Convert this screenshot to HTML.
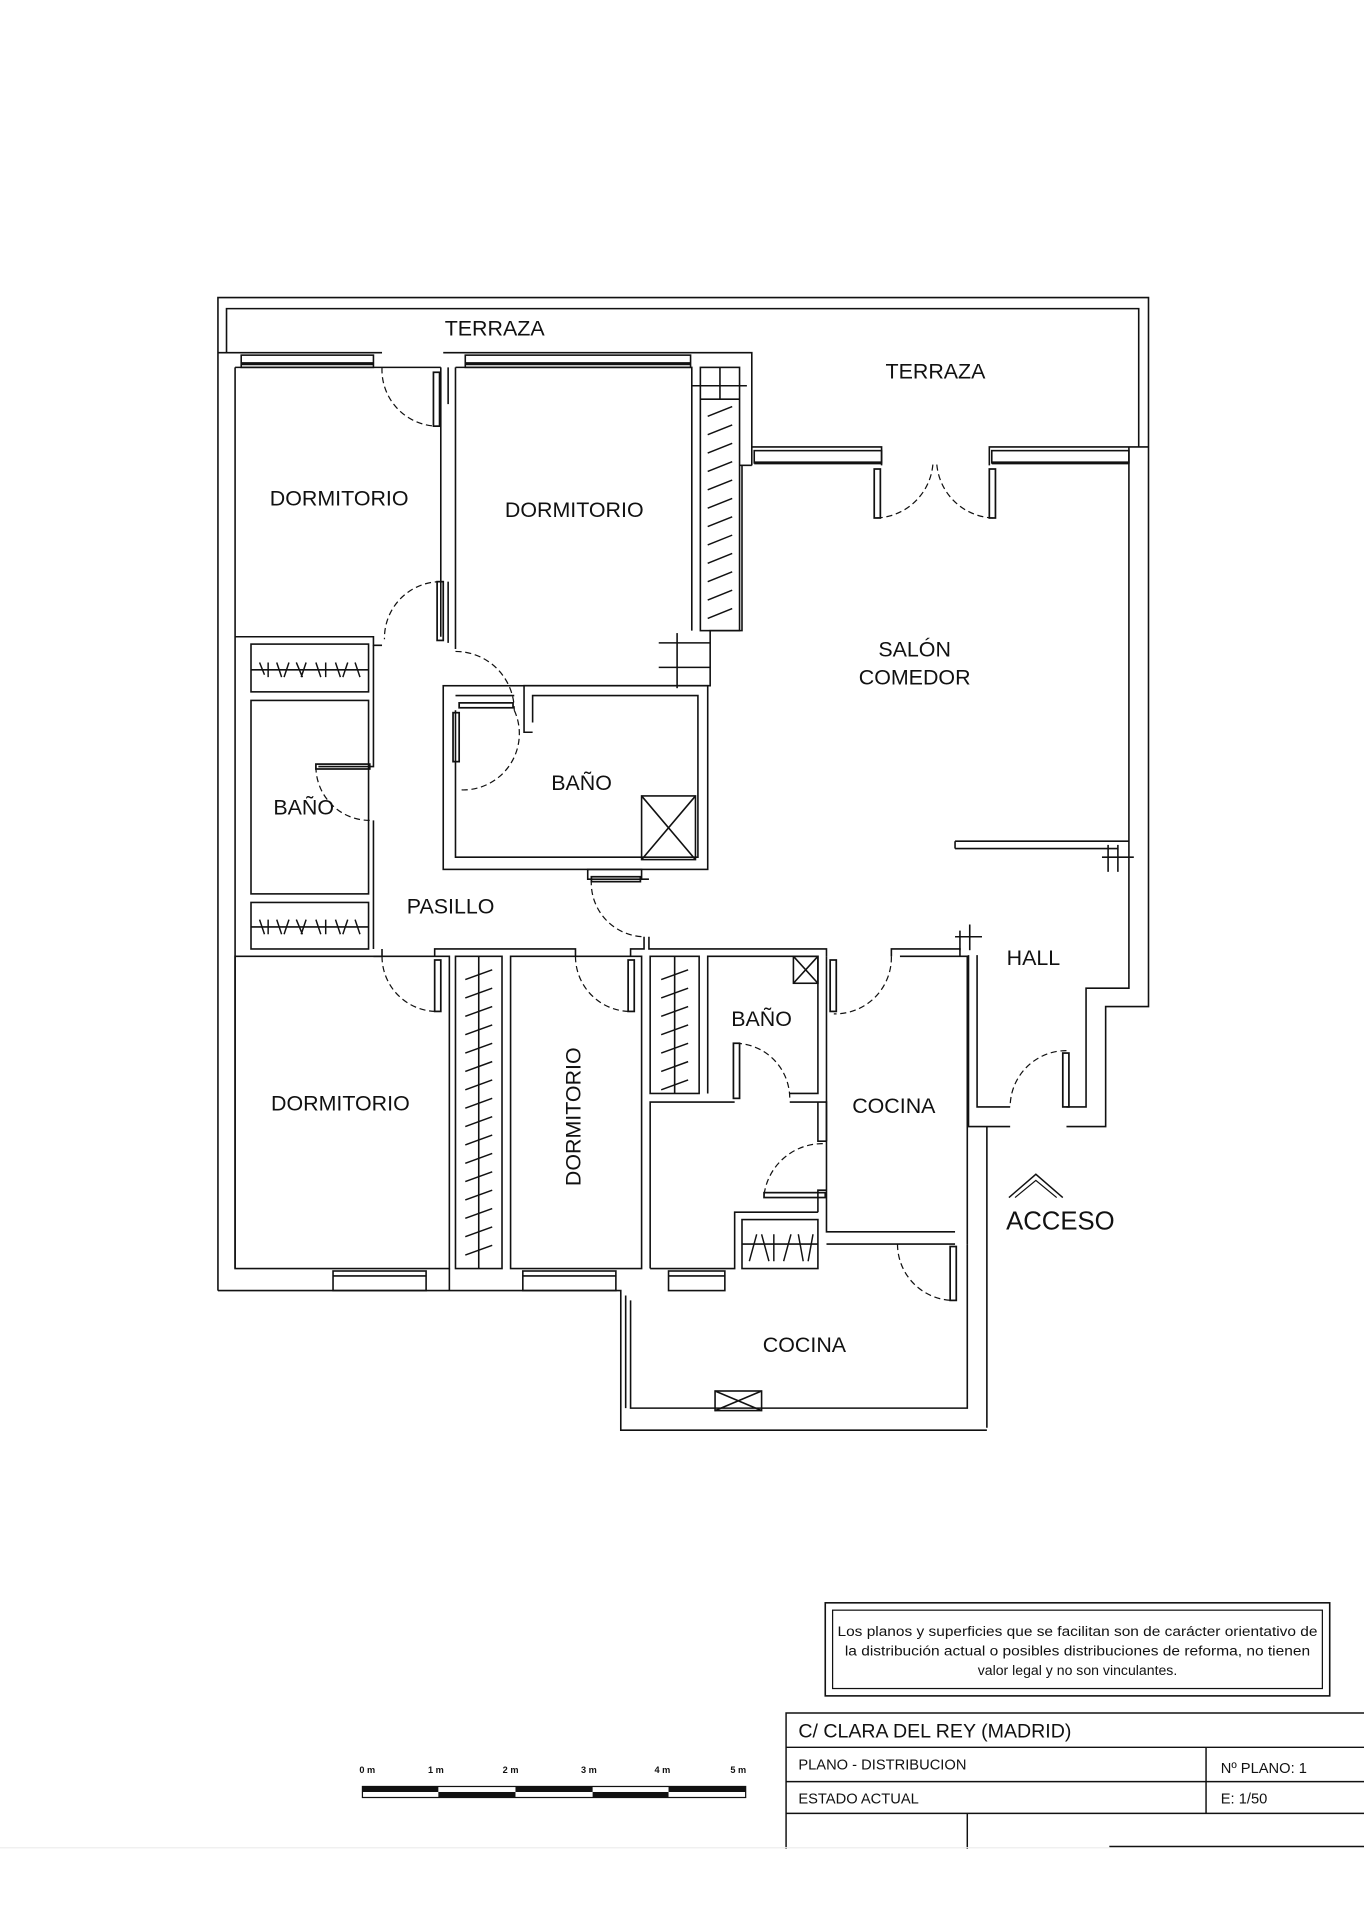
<!DOCTYPE html>
<html><head><meta charset="utf-8"><style>
html,body{margin:0;padding:0;background:#fff}
svg{display:block}
text{font-family:"Liberation Sans",sans-serif;fill:#111}
</style></head><body>
<svg width="1364" height="1920" viewBox="0 0 1114 1568" xmlns="http://www.w3.org/2000/svg">
<g fill="none" stroke="#111" stroke-width="1.3">
<!-- terrace outer -->
<polyline points="178,1054 178,243 938,243 938,365"/>
<polyline points="185,288 185,252 930,252 930,365"/>
<!-- top bedroom wall -->
<polyline points="178,288 312,288"/>
<polyline points="192,300 192,1036"/>
<rect x="197" y="290" width="108" height="10"/>
<line x1="197" y1="297" x2="305" y2="297" stroke-width="2.5"/>
<polyline points="362,288 614,288 614,380"/>
<rect x="380" y="290" width="184" height="10"/>
<line x1="380" y1="297" x2="564" y2="297" stroke-width="2.5"/>
<!-- dorm1 -->
<polyline points="192,300 360,300"/>
<polyline points="192,520 305,520 305,527 312,527"/>
<line x1="360" y1="300" x2="360" y2="520"/>
<line x1="372" y1="300" x2="372" y2="530"/>
<line x1="366" y1="300" x2="366" y2="330"/>
<line x1="366" y1="475" x2="366" y2="525"/>
<!-- dorm2 -->
<polyline points="372,300 565,300 565,515"/>
<rect x="572" y="300" width="32" height="215"/>
<line x1="604" y1="380" x2="614" y2="380"/>
<polyline points="606,380 606,515 580,515 580,560 428,560 428,598 435,598"/>
<line x1="572" y1="326" x2="604" y2="326"/>
<line x1="588" y1="300" x2="588" y2="326"/>
<line x1="565" y1="315" x2="610" y2="315"/>
<line x1="553" y1="517" x2="553" y2="562"/><line x1="538" y1="545" x2="580" y2="545"/><line x1="538" y1="525" x2="580" y2="525"/>
<!-- baño 2 -->
<polyline points="372,568 420,568"/>
<rect x="362" y="560" width="216" height="150" />
<polyline points="372,580 372,700 570,700 570,568 435,568 435,590"/>
<rect x="524" y="650" width="44" height="52"/><line x1="524" y1="650" x2="568" y2="702"/><line x1="568" y1="650" x2="524" y2="702"/>
<!-- left column -->
<rect x="205" y="526" width="96" height="39"/><line x1="205" y1="547" x2="301" y2="547"/>
<rect x="205" y="572" width="96" height="158"/>
<rect x="205" y="737" width="96" height="38"/><line x1="205" y1="757" x2="301" y2="757"/>
<polyline points="305,527 305,626 260,626"/>
<polyline points="305,670 305,775"/>
<!-- salon top -->
<polyline points="614,365 720,365 720,380"/>
<rect x="616" y="368" width="104" height="10"/>
<line x1="616" y1="378" x2="720" y2="378" stroke-width="2.5"/>
<polyline points="808,380 808,365 938,365"/>
<rect x="810" y="368" width="112" height="10"/>
<line x1="810" y1="378" x2="922" y2="378" stroke-width="2.5"/>
<polyline points="922,365 922,807 887,807 887,904 871,904"/>
<polyline points="938,365 938,822 903,822 903,920 871,920"/>
<polyline points="780,687 922,687"/><polyline points="780,693 913,693"/>
<line x1="780" y1="687" x2="780" y2="693"/>
<line x1="905" y1="690" x2="905" y2="712"/><line x1="900" y1="700" x2="926" y2="700"/><line x1="913" y1="690" x2="913" y2="712"/>
<!-- hall -->
<polyline points="798,780 798,904 825,904"/>
<polyline points="791,780 791,920 825,920"/>
<line x1="806" y1="920" x2="806" y2="1166"/>
<line x1="784" y1="760" x2="784" y2="776"/><line x1="792" y1="755" x2="792" y2="776"/><line x1="780" y1="765" x2="802" y2="765"/>
<!-- pasillo lower wall -->
<polyline points="530,765 530,775 675,775 675,781"/>
<polyline points="728,781 728,775 784,775 784,781"/>
<polyline points="312,775 312,781 305,781"/>
<polyline points="355,781 355,775 470,775 470,781"/>
<polyline points="515,781 515,775 526,775 526,765"/>
<polyline points="524,718 524,710 480,710 480,718 530,718"/>
<!-- lower bedroom -->
<rect x="192" y="781" width="175" height="255"/>
<rect x="372" y="781" width="38" height="255"/>
<line x1="391" y1="781" x2="391" y2="1036"/>
<rect x="417" y="781" width="107" height="255"/>
<rect x="531" y="781" width="40" height="112"/>
<line x1="551" y1="781" x2="551" y2="893"/>
<polyline points="578,893 578,781 668,781 668,893 645,893"/>
<rect x="648" y="781" width="20" height="22"/><line x1="648" y1="781" x2="668" y2="803"/><line x1="668" y1="781" x2="648" y2="803"/>
<polyline points="531,1036 531,900 600,900"/>
<polyline points="645,900 675,900 675,1006 780,1006"/>
<polyline points="531,1036 600,1036 600,990 668,990"/>
<rect x="606" y="996" width="62" height="40"/><line x1="606" y1="1016" x2="668" y2="1016"/>
<polyline points="675,1016 780,1016"/>
<polyline points="675,781 675,932"/>
<polyline points="668,900 668,932 675,932"/>
<polyline points="675,972 668,972 668,990"/>
<polyline points="735,781 790,781 790,1016"/>
<polyline points="790,1016 790,1150 515,1150 515,1062"/>
<!-- outer bottom -->
<polyline points="178,1054 507,1054 507,1168 806,1168"/>
<rect x="272" y="1038" width="76" height="16"/><line x1="272" y1="1042" x2="348" y2="1042"/>
<rect x="427" y="1038" width="76" height="16"/><line x1="427" y1="1042" x2="503" y2="1042"/>
<rect x="546" y="1038" width="46" height="16"/><line x1="546" y1="1042" x2="592" y2="1042"/>
<line x1="367" y1="1036" x2="367" y2="1054"/>
<line x1="511" y1="1058" x2="511" y2="1150"/>
<rect x="584" y="1136" width="38" height="16"/><line x1="584" y1="1136" x2="622" y2="1152"/><line x1="622" y1="1136" x2="584" y2="1152"/>
<!-- door leaves -->
<g stroke-width="1.4">
<rect x="354" y="304" width="5" height="44"/><rect x="357" y="475" width="5" height="48"/>
<rect x="370" y="582" width="5" height="40"/><rect x="375" y="574" width="44" height="4"/>
<rect x="258" y="624" width="44" height="4"/><rect x="483" y="716" width="40" height="4"/>
<rect x="714" y="383" width="5" height="40"/><rect x="808" y="383" width="5" height="40"/>
<rect x="355" y="784" width="5" height="42"/><rect x="513" y="784" width="5" height="42"/>
<rect x="678" y="784" width="5" height="42"/><rect x="599" y="852" width="5" height="45"/>
<rect x="624" y="974" width="50" height="4"/><rect x="776" y="1018" width="5" height="44"/>
<rect x="868" y="860" width="5" height="44"/>
</g>
</g>
<!-- wardrobe hatch -->
<g stroke="#111" stroke-width="1.2" fill="none">
<path d="M212 541l4 10M219 541l0 12M226 541l4 12M236 541l-4 12M242 541l5 12M250 541l-4 12M258 541l4 12M266 541l0 12M274 541l4 12M284 541l-4 12M290 541l4 12"/>
<path d="M212 751l4 12M219 751l0 12M226 751l4 12M236 751l-4 12M242 751l5 12M250 751l-4 12M258 751l4 12M266 751l0 12M274 751l4 12M284 751l-4 12M290 751l4 12"/>
<path d="M578 340l20 -8M578 355l20 -8M578 370l20 -8M578 385l20 -8M578 400l20 -8M578 415l20 -8M578 430l20 -8M578 445l20 -8M578 460l20 -8M578 475l20 -8M578 490l20 -8M578 505l20 -8"/>
<path d="M380 800l22 -8M380 815l22 -8M380 830l22 -8M380 845l22 -8M380 860l22 -8M380 875l22 -8M380 890l22 -8M380 905l22 -8M380 920l22 -8M380 935l22 -8M380 950l22 -8M380 965l22 -8M380 980l22 -8M380 995l22 -8M380 1010l22 -8M380 1025l22 -8"/>
<path d="M540 800l22 -8M540 815l22 -8M540 830l22 -8M540 845l22 -8M540 860l22 -8M540 875l22 -8M540 890l22 -8"/>
<path d="M612 1030l6 -22M622 1008l6 22M632 1008l0 22M640 1030l6 -22M652 1008l4 22M660 1030l4 -22"/>
</g>
<!-- door arcs -->
<g stroke="#111" stroke-width="1" fill="none" stroke-dasharray="5,3">
<path d="M312 300 A46 46 0 0 0 357 348"/>
<path d="M360 475 A46 46 0 0 0 314 522"/>
<path d="M372 532 A48 48 0 0 1 420 580"/>
<path d="M420 580 A46 46 0 0 1 375 645"/>
<path d="M258 626 A44 44 0 0 0 302 670"/>
<path d="M483 718 A44 44 0 0 0 526 765"/>
<path d="M716 423 A48 48 0 0 0 762 378"/>
<path d="M811 423 A48 48 0 0 1 765 378"/>
<path d="M312 781 A45 45 0 0 0 357 826"/>
<path d="M470 781 A45 45 0 0 0 515 826"/>
<path d="M728 781 A46 46 0 0 1 681 828"/>
<path d="M601 852 A45 45 0 0 1 645 897"/>
<path d="M672 934 A48 48 0 0 0 624 976"/>
<path d="M733 1016 A46 46 0 0 0 779 1062"/>
<path d="M871 858 A46 46 0 0 0 825 904"/>
</g>
<!-- labels -->
<g font-size="17.5" text-anchor="middle">
<text x="404" y="274">TERRAZA</text>
<text x="764" y="309">TERRAZA</text>
<text x="277" y="413">DORMITORIO</text>
<text x="469" y="422">DORMITORIO</text>
<text x="747" y="536">SALÓN</text>
<text x="747" y="559">COMEDOR</text>
<text x="475" y="645">BAÑO</text>
<text x="248" y="665">BAÑO</text>
<text x="368" y="746">PASILLO</text>
<text x="844" y="788">HALL</text>
<text x="622" y="838">BAÑO</text>
<text x="278" y="907">DORMITORIO</text>
<text x="730" y="909">COCINA</text>
<text x="657" y="1104">COCINA</text>
<text x="474" y="912" transform="rotate(-90 474 912)">DORMITORIO</text>
<text x="866" y="1004" font-size="21">ACCESO</text>
</g>
<polyline points="824,978 846,959 868,978" fill="none" stroke="#111" stroke-width="1.2"/>
<polyline points="829,978 846,964 863,978" fill="none" stroke="#111" stroke-width="1"/>
<!-- disclaimer box -->
<rect x="674" y="1309" width="412" height="76" fill="none" stroke="#111" stroke-width="1.3"/>
<rect x="680" y="1315" width="400" height="64" fill="none" stroke="#111" stroke-width="1"/>
<g font-size="11.5" text-anchor="middle" fill="#333">
<text x="880" y="1336" textLength="392" lengthAdjust="spacingAndGlyphs">Los planos y superficies que se facilitan son de carácter orientativo de</text>
<text x="880" y="1352" textLength="380" lengthAdjust="spacingAndGlyphs">la distribución actual o posibles distribuciones de reforma, no tienen</text>
<text x="880" y="1368">valor legal y no son vinculantes.</text>
</g>
<!-- title block -->
<g fill="none" stroke="#111" stroke-width="1.2">
<polyline points="642,1510 642,1399 1114,1399"/>
<line x1="642" y1="1427" x2="1114" y2="1427"/>
<line x1="642" y1="1455" x2="1114" y2="1455"/>
<line x1="642" y1="1481" x2="1114" y2="1481"/>
<line x1="985" y1="1427" x2="985" y2="1481"/>
<line x1="790" y1="1481" x2="790" y2="1510"/>
<line x1="906" y1="1508" x2="1114" y2="1508"/>
</g>
<line x1="0" y1="1509" x2="906" y2="1509" stroke="#eee" stroke-width="1"/>
<g font-size="16"><text x="652" y="1419">C/  CLARA DEL REY   (MADRID)</text></g>
<g font-size="12">
<text x="652" y="1445">PLANO  -  DISTRIBUCION</text>
<text x="997" y="1448">Nº PLANO:  1</text>
<text x="652" y="1473">ESTADO  ACTUAL</text>
<text x="997" y="1473">E: 1/50</text>
</g>
<!-- scale bar -->
<g font-size="7.5" font-weight="bold" text-anchor="middle">
<text x="300" y="1448">0 m</text><text x="356" y="1448">1 m</text><text x="417" y="1448">2 m</text>
<text x="481" y="1448">3 m</text><text x="541" y="1448">4 m</text><text x="603" y="1448">5 m</text>
</g>
<rect x="296" y="1459" width="313" height="9" fill="#fff" stroke="#111" stroke-width="1"/>
<rect x="296" y="1459" width="62" height="4.5" fill="#111"/>
<rect x="358" y="1463.5" width="63" height="4.5" fill="#111"/>
<rect x="421" y="1459" width="63" height="4.5" fill="#111"/>
<rect x="484" y="1463.5" width="62" height="4.5" fill="#111"/>
<rect x="546" y="1459" width="63" height="4.5" fill="#111"/>
</svg>
</body></html>
